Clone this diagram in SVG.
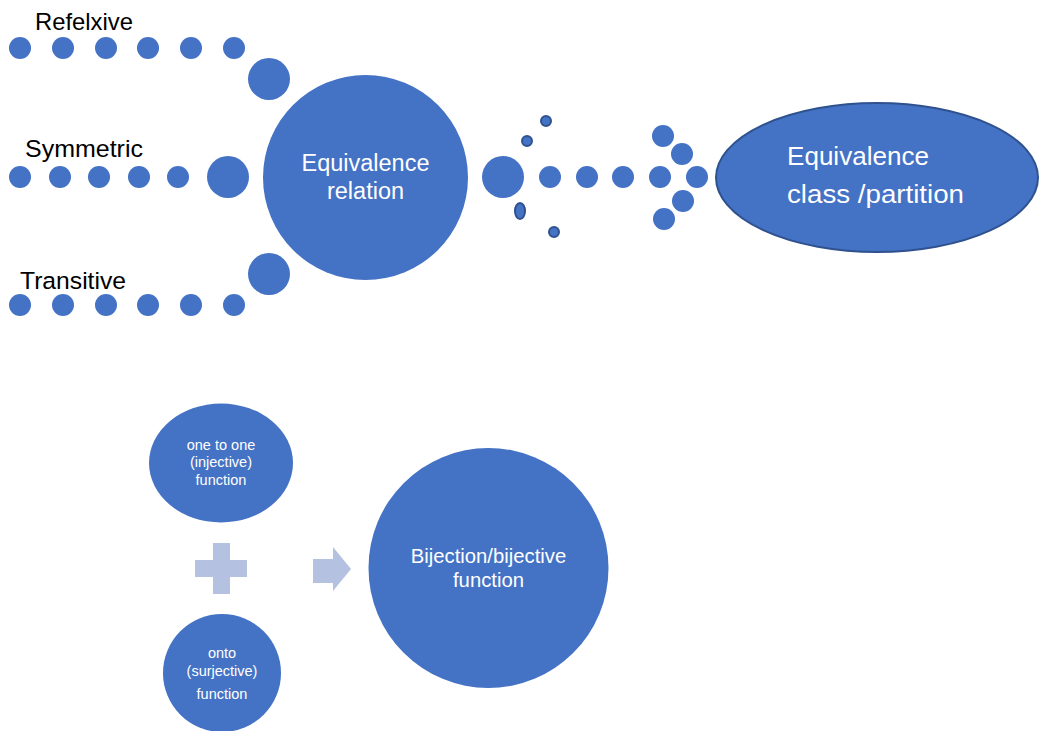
<svg xmlns="http://www.w3.org/2000/svg" width="1040" height="731" viewBox="0 0 1040 731">
<style>
.dot{fill:#4472c4}
.sm{fill:#4472c4;stroke:#2f528f;stroke-width:2}
.lbl{font-family:"Liberation Sans",Arial,sans-serif;font-size:24.5px;fill:#000}
.wt{font-family:"Liberation Sans",Arial,sans-serif;fill:#fff;text-anchor:middle}
.ws{font-family:"Liberation Sans",Arial,sans-serif;fill:#fff}
.lt{fill:#b4c1e1}
</style>
<rect width="1040" height="731" fill="#fff"/>
<g id="connectors">
  <g id="reflexive-dots">
    <circle class="dot" cx="20" cy="48" r="11"/><circle class="dot" cx="63" cy="48" r="11"/><circle class="dot" cx="106" cy="48" r="11"/><circle class="dot" cx="148" cy="48" r="11"/><circle class="dot" cx="191" cy="48" r="11"/><circle class="dot" cx="234" cy="48" r="11"/><circle class="dot" cx="269" cy="79" r="21"/>
  </g>
  <g id="symmetric-dots">
    <circle class="dot" cx="20" cy="177" r="11"/><circle class="dot" cx="60" cy="177" r="11"/><circle class="dot" cx="99" cy="177" r="11"/><circle class="dot" cx="139" cy="177" r="11"/><circle class="dot" cx="178" cy="177" r="11"/><circle class="dot" cx="228" cy="177" r="21"/>
  </g>
  <g id="transitive-dots">
    <circle class="dot" cx="20" cy="305" r="11"/><circle class="dot" cx="63" cy="305" r="11"/><circle class="dot" cx="106" cy="305" r="11"/><circle class="dot" cx="148" cy="305" r="11"/><circle class="dot" cx="191" cy="305" r="11"/><circle class="dot" cx="234" cy="305" r="11"/><circle class="dot" cx="269" cy="274" r="21"/>
  </g>
  <g id="arrow-dots">
    <circle class="dot" cx="503" cy="177" r="21"/>
    <circle class="dot" cx="550" cy="177" r="11"/><circle class="dot" cx="587" cy="177" r="11"/><circle class="dot" cx="623" cy="177" r="11"/><circle class="dot" cx="660" cy="177" r="11"/><circle class="dot" cx="697" cy="177" r="11"/>
    <circle class="dot" cx="663" cy="136" r="11"/><circle class="dot" cx="682" cy="154" r="11"/><circle class="dot" cx="683" cy="201" r="11"/><circle class="dot" cx="664" cy="219" r="11"/>
    <circle class="sm" cx="546" cy="121" r="5"/><circle class="sm" cx="527" cy="141" r="5"/><ellipse class="sm" cx="520" cy="211" rx="5" ry="8"/><circle class="sm" cx="554" cy="232" r="5"/>
  </g>
  <g id="plus"><path class="lt" d="M213 543H230V560H247V577H230V594H213V577H195V560H213Z"/></g>
  <g id="arrow"><path class="lt" d="M313 559H333V547L351 569L333 591V583H313Z"/></g>
</g>
<g id="label-reflexive"><text class="lbl" x="35" y="30" textLength="98" lengthAdjust="spacingAndGlyphs">Refelxive</text></g>
<g id="label-symmetric"><text class="lbl" x="25" y="157" textLength="118" lengthAdjust="spacingAndGlyphs">Symmetric</text></g>
<g id="label-transitive"><text class="lbl" x="20" y="289" textLength="106" lengthAdjust="spacingAndGlyphs">Transitive</text></g>
<g id="equivalence-relation">
  <circle class="dot" cx="365.5" cy="177.5" r="102.5"/>
  <text class="wt" font-size="23.5" x="365.5" y="171">Equivalence</text>
  <text class="wt" font-size="23.5" x="365.5" y="199">relation</text>
</g>
<g id="equivalence-class">
  <ellipse cx="877" cy="177.5" rx="161" ry="74.5" fill="#4472c4" stroke="#2f528f" stroke-width="2"/>
  <text class="ws" font-size="26" x="787" y="165" textLength="142" lengthAdjust="spacingAndGlyphs">Equivalence</text>
  <text class="ws" font-size="26" x="787" y="203" textLength="177" lengthAdjust="spacingAndGlyphs">class /partition</text>
</g>
<g id="injective">
  <ellipse class="dot" cx="221" cy="463" rx="72" ry="59.5"/>
  <text class="wt" font-size="14.5" x="221" y="450">one to one</text>
  <text class="wt" font-size="14.5" x="221" y="467">(injective)</text>
  <text class="wt" font-size="14.5" x="221" y="485">function</text>
</g>
<g id="surjective">
  <circle class="dot" cx="222" cy="673" r="59"/>
  <text class="wt" font-size="14.5" x="222" y="658">onto</text>
  <text class="wt" font-size="14.5" x="222" y="676">(surjective)</text>
  <text class="wt" font-size="14.5" x="222" y="699">function</text>
</g>
<g id="bijection">
  <circle class="dot" cx="488.5" cy="568" r="120"/>
  <text class="wt" font-size="20.3" x="488.5" y="563">Bijection/bijective</text>
  <text class="wt" font-size="20.3" x="488.5" y="587">function</text>
</g>
</svg>
